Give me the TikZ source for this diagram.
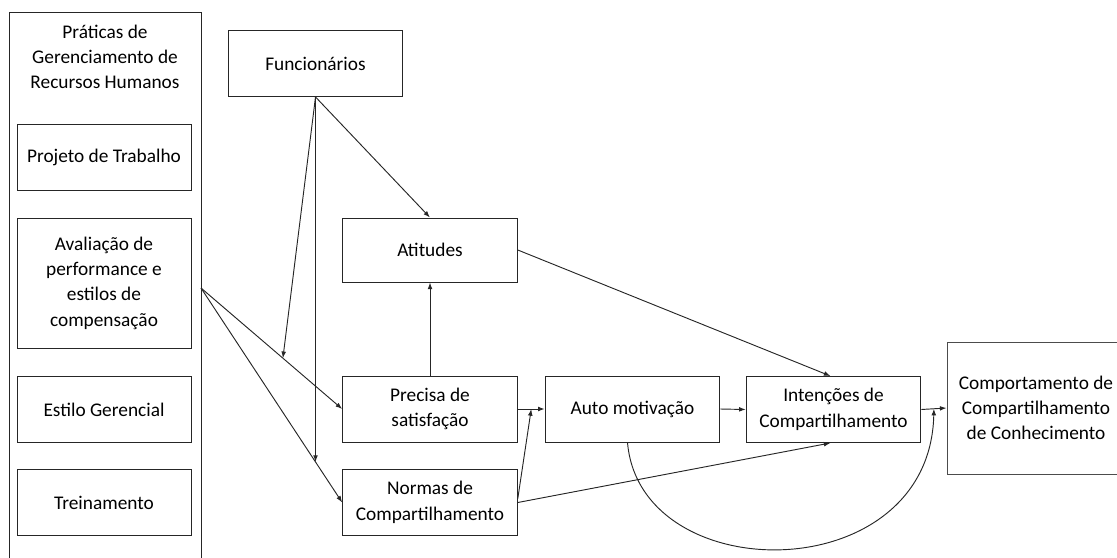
\documentclass[tikz,border=0pt]{standalone}
\usepackage{fontspec}
\setmainfont{Carlito}
\usetikzlibrary{positioning,calc,arrows.meta}

\begin{document}
\begin{tikzpicture}[
  x=0.75pt, y=-0.75pt,
  font=\fontsize{14.5}{19}\selectfont,
  line width=0.7pt,
  box/.style={
    draw=black!85,
    minimum width=131pt,
    minimum height=49.5pt,
    inner sep=2pt,
    align=center
  },
  side/.style={box, minimum width=130.5pt},   % boxes inside the HR column
  tall/.style={side, minimum height=97.5pt},
  arr/.style={-{Latex[length=5pt,width=3.6pt]}, black!85},
  lin/.style={black!85}
]
\useasboundingbox (0,0) rectangle (1117,557);

% --- Left column: HR practices ---
\draw[black!85] (9,570) -- (9,12) -- (201,12) -- (201,570);
\node[align=center] (hrm) at (105,57) {Práticas de\\Gerenciamento de\\Recursos Humanos};
\node[side] (proj) at (104,157) {Projeto de Trabalho};
\node[tall] (aval) at (104,283) {Avaliação de\\performance e\\estilos de\\compensação};
\node[side] (estg) at (104,409.5) {Estilo Gerencial};
\node[side] (trei) at (104,502.5) {Treinamento};
\coordinate (src) at (201,288);

% --- Middle: employees and their antecedents ---
\node[box] (fun) at (315.5,63.5) {Funcionários};
\node[box, minimum height=48pt] (att) at (430,250) {Atitudes};
\node[box] (prec) at (430,409) {Precisa de\\satisfação};
\node[box] (norm) at (430,502.5) {Normas de\\Compartilhamento};
\node[box] (auto) at (632.5,409) {Auto motivação};
\node[box] (int) at (833.5,409.5) {Intenções de\\Compartilhamento};
\node[box, draw=black!70, minimum width=133.5pt, minimum height=99pt] (comp) at (1036,408)
  {Comportamento de\\Compartilhamento\\de Conhecimento};

% --- Junction points on the links ---
\coordinate (j1) at ($(src)!0.58!(prec.west)$);
\coordinate (fdown) at ($(fun.south)+(0,500)$);
\coordinate (j2) at (intersection of fun.south--fdown and src--norm.west);
\coordinate (j3) at ($(prec.east)!0.5!(auto.west)$);
\coordinate (j4) at ($(int.east)!0.5!(comp.west)$);

% --- Links ---
\draw[arr] (fun.south) -- (att.north);
\draw[arr] (fun.south) -- (j1);
\draw[arr] (fun.south) -- (j2);
\draw[arr] (src) -- (prec.west);
\draw[arr] (src) -- (norm.west);
\draw[arr] (prec.north) -- (att.south);
\draw[arr] (prec.east) -- (auto.west);
\draw[arr] ($(norm.east)+(0,-4)$) -- (j3);
\draw[arr] (norm.east) -- ($(int.south)+(-3,0)$);
\draw[arr] (att.east) -- ($(int.north)+(-3,0)$);
\draw[arr] (auto.east) -- (int.west);
\draw[arr] (int.east) -- (comp.west);
\draw[arr] ($(auto.south)+(-5,0)$) .. controls (640,590) and (930,590) .. (j4);

\end{tikzpicture}
\end{document}
